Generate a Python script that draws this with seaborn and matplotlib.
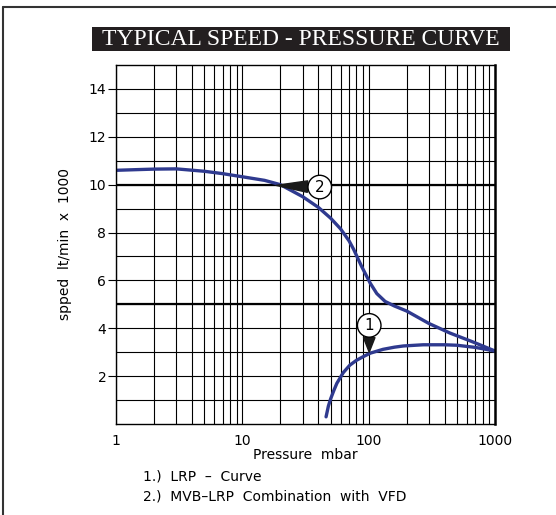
import numpy as np
import seaborn as sns
import matplotlib.pyplot as plt
from matplotlib.patches import Rectangle
from matplotlib.lines import Line2D
from matplotlib.ticker import FixedLocator, NullFormatter

# curve 2: MVB-LRP combination with VFD
mvb_pressure = [1, 1.5, 2, 3, 5, 7, 10, 15, 20, 30, 40, 50, 60, 70, 76, 88, 103, 116, 135, 160, 200, 300, 440, 675, 1000]
mvb_speed = [10.6, 10.63, 10.65, 10.66, 10.56, 10.46, 10.33, 10.18, 10.0, 9.5, 9.05, 8.6, 8.15, 7.65, 7.3, 6.58, 5.88, 5.45, 5.12, 4.93, 4.72, 4.2, 3.8, 3.42, 3.05]

# curve 1: LRP curve
lrp_pressure = [46, 48, 50, 53, 56, 63, 71, 80, 91, 103, 130, 160, 188, 270, 400, 500, 700, 1000]
lrp_speed = [0.3, 0.75, 1.05, 1.4, 1.7, 2.15, 2.46, 2.66, 2.82, 2.96, 3.12, 3.21, 3.26, 3.31, 3.31, 3.29, 3.2, 3.05]

x_ticks = [1, 10, 100, 1000]
y_ticks = [2, 4, 6, 8, 10, 12, 14]
legend_lines = ['1.)  LRP  \u2013  Curve', '2.)  MVB\u2013LRP  Combination  with  VFD']

sns.set_style("white")
plt.rcParams['font.family'] = ['DejaVu Sans']
plt.rcParams['text.color'] = 'black'
plt.rcParams['axes.labelcolor'] = 'black'
plt.rcParams['xtick.color'] = 'black'
plt.rcParams['ytick.color'] = 'black'

fig = plt.figure(figsize=(5.56, 5.15), dpi=100)
ax = fig.add_axes([116 / 556, 1 - 424 / 515, 379 / 556, 359 / 515])

curve_color = '#2f3a8f'
sns.lineplot(x=mvb_pressure, y=mvb_speed, ax=ax, color=curve_color, lw=2.4)
sns.lineplot(x=lrp_pressure, y=lrp_speed, ax=ax, color=curve_color, lw=2.4)

ax.set_xscale('log')
ax.set_xlim(1, 1000)
ax.set_ylim(0, 15)

# grid
ax.set_xticks(x_ticks)
ax.set_xticklabels([str(t) for t in x_ticks])
minor_x = [m * 10 ** k for k in range(3) for m in range(2, 10)]
ax.xaxis.set_minor_locator(FixedLocator(minor_x))
ax.xaxis.set_minor_formatter(NullFormatter())
ax.set_yticks(y_ticks)
ax.yaxis.set_minor_locator(FixedLocator(list(range(1, 15, 2))))
ax.grid(True, which='both', color='black', lw=0.8)
for yv in [5, 10]:
    ax.axhline(yv, color='black', lw=1.6, zorder=1)

ax.tick_params(axis='x', which='both', length=0, pad=7, labelsize=10)
ax.tick_params(axis='y', which='major', length=6, width=0.8, color='black', pad=1, labelsize=10, left=True)
ax.tick_params(axis='y', which='minor', length=0)
for side in ['left', 'bottom', 'top']:
    ax.spines[side].set_color('black')
    ax.spines[side].set_linewidth(1.0)
ax.spines['right'].set_color('black')
ax.spines['right'].set_linewidth(1.8)

ax.set_xlabel('Pressure  mbar', fontsize=10, labelpad=0)
ax.set_ylabel('spped  lt/min  x  1000', fontsize=10, labelpad=12)

# markers pointing at the curves
marker_box = dict(boxstyle='circle,pad=0.28', fc='white', ec='black', lw=1)
wedge = dict(arrowstyle='wedge,tail_width=0.75', fc='#1a1a1a', ec='#1a1a1a', shrinkA=0, shrinkB=0)
ax.annotate('2', xy=(18.5, 9.97), xytext=(41, 9.9), ha='center', va='center', fontsize=11,
            bbox=marker_box, arrowprops=wedge, zorder=5)
ax.annotate('1', xy=(101, 3.0), xytext=(101, 4.12), ha='center', va='center', fontsize=11,
            bbox=marker_box, arrowprops=wedge, zorder=5)

# title banner
fig.patches.append(Rectangle((92 / 556, 1 - 51 / 515), 418 / 556, 24 / 515,
                             transform=fig.transFigure, fc='#231f20', ec='none'))
fig.text(301 / 556, 1 - 39.5 / 515, 'TYPICAL SPEED - PRESSURE CURVE', color='white',
         family='Liberation Serif', fontsize=17, ha='center', va='center')

# outer frame
fig.lines.append(Line2D([3 / 556, 3 / 556], [0, 1 - 7 / 515], transform=fig.transFigure, color='#333333', lw=1.5))
fig.lines.append(Line2D([3 / 556, 1], [1 - 7 / 515, 1 - 7 / 515], transform=fig.transFigure, color='#333333', lw=1.5))

for i, line in enumerate(legend_lines):
    fig.text(143 / 556, 1 - (476 + 20 * i) / 515, line, fontsize=10, ha='left', va='center')

fig.savefig('out.png', dpi=100)
